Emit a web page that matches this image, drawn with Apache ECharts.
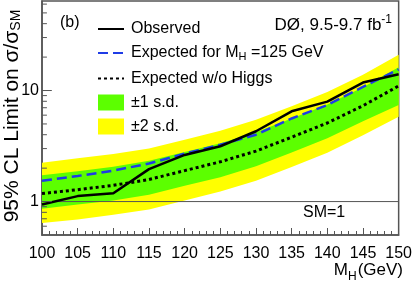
<!DOCTYPE html>
<html><head><meta charset="utf-8">
<script src="https://cdn.jsdelivr.net/npm/echarts@6/dist/echarts.min.js"></script>
<style>html,body{margin:0;padding:0;background:#fff}#c{width:415px;height:285px}</style>
</head><body><div id="c"></div>
<script>
const masses = [100,105,110,115,120,125,130,135,140,145,150];
const observed = [0.94,1.12,1.19,1.96,2.63,3.15,4.3,6.5,7.95,11.8,14.0];
const expectedMH125 = [1.54,1.7,1.9,2.2,2.7,3.25,4.0,5.6,7.4,10.8,15.5];
const expectedNoHiggs = [1.18,1.28,1.4,1.58,1.9,2.28,2.85,3.8,5.1,7.3,11];
const band2Up = [2.24,2.45,2.68,3.0,3.6,4.35,5.45,7.2,9.7,13.9,21];
const band1Up = [1.73,1.88,2.06,2.33,2.8,3.35,4.2,5.6,7.5,10.7,16.2];
const band1Down = [0.86,0.94,1.02,1.15,1.39,1.66,2.08,2.77,3.72,5.3,7.4];
const band2Down = [0.64,0.69,0.76,0.85,1.02,1.23,1.54,2.05,2.75,3.95,5.8];
const smX = [100, 150];
const smY = [1, 1];
const yMajorTicks = [1, 10];
const yMinorTicks = [0.6,0.7,0.8,0.9,2,3,4,5,6,7,8,9,20,30,40,50,60];

const FONT = 'Liberation Sans, Arial, Helvetica, sans-serif';
const AX = '#555';
const MAJOR_LEN = 1.38;  // tick length in x-axis units (~10 px)
const MINOR_LEN = 0.69;  // (~5 px)

function band(name, up, down, color) {
  return {
    type: 'custom', name: name, silent: true, z: 1,
    itemStyle: {color: color},
    data: [[masses[0], up[0]]],
    renderItem: function (params, api) {
      const pts = [];
      for (let i = 0; i < masses.length; i++) pts.push(api.coord([masses[i], up[i]]));
      for (let i = masses.length - 1; i >= 0; i--) pts.push(api.coord([masses[i], down[i]]));
      return {type: 'polygon', shape: {points: pts}, style: {fill: color}};
    }
  };
}
function tickSeries(vals, len) {
  return vals.map(v => ({
    type: 'line', silent: true, z: 10, symbol: 'none', animation: false,
    data: [[masses[0], v], [masses[0] + len, v]],
    lineStyle: {color: AX, width: 1}
  }));
}
const z = arr => masses.map((m, i) => [m, arr[i]]);
const hideSym = {opacity: 0};

const chart = echarts.init(document.getElementById('c'));
chart.setOption({
  animation: false,
  textStyle: {fontFamily: FONT},
  tooltip: {show: false},
  grid: {left: 42, right: 12, top: 1, bottom: 50, show: true, borderColor: AX, borderWidth: 1.5},
  xAxis: {
    type: 'value', min: 100, max: 150, interval: 5,
    axisLine: {lineStyle: {color: AX, width: 1.5}},
    axisTick: {inside: true, length: 7, lineStyle: {color: AX}},
    minorTick: {show: true, splitNumber: 5, length: 4, lineStyle: {color: AX}},
    splitLine: {show: false},
    axisLabel: {fontSize: 16, color: '#000', margin: 11, fontFamily: FONT}
  },
  yAxis: {
    type: 'log', logBase: 10, min: 0.5, max: 64,
    axisLine: {show: true, lineStyle: {color: AX, width: 1.5}},
    axisTick: {show: false},
    splitLine: {show: false},
    axisLabel: {fontSize: 16, color: '#000', margin: 3, fontFamily: FONT,
      showMinLabel: false, showMaxLabel: false,
      formatter: v => (Math.abs(v - 1) < 1e-9 ? '1' : (Math.abs(v - 10) < 1e-9 ? '10' : ''))}
  },
  legend: {
    orient: 'vertical', left: 92, top: 16, itemWidth: 26, itemHeight: 16, itemGap: 8,
    selectedMode: false,
    data: [
      {name: 'Observed', itemStyle: hideSym},
      {name: 'Expected for MH=125 GeV', itemStyle: hideSym},
      {name: 'Expected w/o Higgs', itemStyle: hideSym},
      {name: '±1 s.d.', icon: 'rect'},
      {name: '±2 s.d.', icon: 'rect'}
    ],
    formatter: n => n === 'Expected for MH=125 GeV' ? '{a|Expected for M}{s|H}{a| =125 GeV}' : n,
    textStyle: {fontSize: 16, color: '#000', fontFamily: FONT, padding: [0, 0, 0, 2],
      rich: {a: {fontSize: 16, fontFamily: FONT, color: '#000'},
             s: {fontSize: 11, fontFamily: FONT, color: '#000', padding: [8, 0, 0, 0], verticalAlign: 'bottom'}}}
  },
  series: [
    band('±2 s.d.', band2Up, band2Down, '#ffff00'),
    band('±1 s.d.', band1Up, band1Down, '#5cff00'),
    {type: 'line', name: 'SM', data: smX.map((x, i) => [x, smY[i]]), symbol: 'none', silent: true, z: 3,
     lineStyle: {color: '#555', width: 1}},
    {type: 'line', name: 'Expected w/o Higgs', data: z(expectedNoHiggs), symbol: 'none', z: 4,
     itemStyle: {color: '#000'}, lineStyle: {color: '#000', width: 3, type: [3, 3]}},
    {type: 'line', name: 'Expected for MH=125 GeV', data: z(expectedMH125), symbol: 'none', z: 5,
     itemStyle: {color: '#1f3ce6'}, lineStyle: {color: '#1f3ce6', width: 2.5, type: [10, 5]}},
    {type: 'line', name: 'Observed', data: z(observed), symbol: 'none', z: 6,
     itemStyle: {color: '#000'}, lineStyle: {color: '#000', width: 2.5}}
  ].concat(tickSeries(yMajorTicks, MAJOR_LEN), tickSeries(yMinorTicks, MINOR_LEN)),
  graphic: [
    {type: 'text', left: 60, top: 15, style: {text: '(b)', font: '16px ' + FONT, fill: '#000'}},
    {type: 'text', right: 23, top: 14, style: {text: '{a|DØ, 9.5-9.7 fb}{p|-1}', fill: '#000',
      rich: {a: {fontSize: 17, fontFamily: FONT, verticalAlign: 'bottom'},
             p: {fontSize: 12, fontFamily: FONT, padding: [0, 0, 8, 0], verticalAlign: 'bottom'}}}},
    {type: 'text', left: 303, top: 205, style: {text: 'SM=1', font: '16px ' + FONT, fill: '#000'}},
    {type: 'text', right: 12, top: 262, style: {text: '{a|M}{s|H}{a|(GeV)}', fill: '#000',
      rich: {a: {fontSize: 17, fontFamily: FONT, verticalAlign: 'top'},
             s: {fontSize: 12, fontFamily: FONT, padding: [9, 1, 0, 0], verticalAlign: 'top'}}}},
    {type: 'text', x: 11, y: 116, rotation: Math.PI / 2,
      style: {text: '{a|95% CL Limit on σ/σ}{s|SM}', fill: '#000', align: 'center', verticalAlign: 'middle',
        rich: {a: {fontSize: 21, fontFamily: FONT, verticalAlign: 'bottom'},
               s: {fontSize: 14, fontFamily: FONT, padding: [10, 0, 0, 0], verticalAlign: 'bottom'}}}}
  ]
});
</script></body></html>
